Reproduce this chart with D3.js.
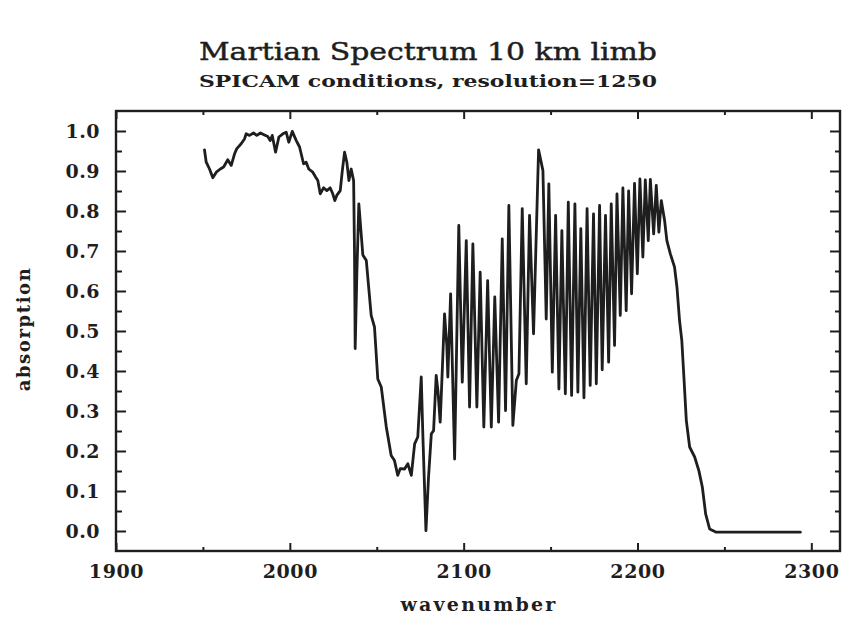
<!DOCTYPE html>
<html>
<head>
<meta charset="utf-8">
<script src="https://cdn.jsdelivr.net/npm/d3@7"></script>
<style>
  html, body { margin: 0; padding: 0; background: #fff; }
  svg { display: block; }
</style>
</head>
<body>
<svg id="chart" width="843" height="618"></svg>
<script>
// ---- Data ----
const titleText = "Martian Spectrum 10 km limb";
const subtitleText = "SPICAM conditions, resolution=1250";
const xLabel = "wavenumber";
const yLabel = "absorption";

const wavenumber = [
  1950.9, 1951.9, 1953.8, 1955.7, 1957.7, 1960.0, 1961.9, 1964.3, 1966.3, 1968.2,
  1969.5, 1972.0, 1973.9, 1974.9, 1976.8, 1979.1, 1981.0, 1983.1, 1985.4, 1987.3,
  1988.7, 1989.9, 1991.8, 1993.7, 1996.0, 1997.9, 1999.4, 2001.4, 2003.7, 2005.6,
  2007.9, 2009.4, 2010.9, 2013.2, 2014.8, 2016.1, 2017.5, 2019.4, 2021.3, 2023.2,
  2024.7, 2025.9, 2027.0, 2029.0, 2030.2, 2031.5, 2032.8, 2034.0, 2035.3, 2036.7,
  2037.2, 2037.6, 2038.6, 2039.7, 2042.0, 2044.0, 2046.8, 2048.7, 2050.6, 2052.6,
  2055.5, 2058.3, 2060.2, 2062.1, 2063.5, 2066.0, 2067.9, 2069.9, 2071.8, 2073.6,
  2075.6, 2076.5, 2078.3, 2079.8, 2081.4, 2082.7, 2084.2, 2085.2, 2086.5, 2089.0,
  2090.3, 2090.9, 2092.5, 2094.8, 2097.2, 2099.2, 2101.5, 2103.4, 2105.3, 2107.6,
  2109.5, 2111.6, 2113.8, 2115.9, 2117.9, 2120.1, 2122.2, 2124.1, 2126.0, 2128.3,
  2130.3, 2131.8, 2133.7, 2136.0, 2137.9, 2140.2, 2143.1, 2145.6, 2147.5, 2149.0,
  2151.0, 2152.9, 2154.8, 2156.5, 2158.5, 2160.2, 2162.1, 2164.0, 2165.7, 2167.4,
  2169.2, 2171.0, 2172.8, 2174.7, 2176.3, 2178.2, 2179.7, 2181.6, 2183.4, 2184.9,
  2186.8, 2188.2, 2190.1, 2191.6, 2193.5, 2194.9, 2196.6, 2198.3, 2199.9, 2201.4,
  2203.1, 2204.5, 2206.2, 2207.4, 2209.3, 2210.8, 2212.3, 2213.7, 2215.6, 2216.9,
  2218.9, 2221.3, 2222.7, 2224.2, 2225.5, 2226.7, 2228.1, 2230.0, 2232.9, 2235.3,
  2237.3, 2239.2, 2241.5, 2245.3, 2293.7
];
const absorption = [
  0.953, 0.922, 0.905, 0.883, 0.897, 0.905, 0.910, 0.928, 0.914, 0.943,
  0.956, 0.968, 0.980, 0.993, 0.989, 0.995, 0.989, 0.995, 0.990, 0.986,
  0.976, 0.989, 0.947, 0.985, 0.993, 0.997, 0.972, 0.999, 0.976, 0.960,
  0.918, 0.922, 0.905, 0.897, 0.885, 0.876, 0.843, 0.858, 0.851, 0.858,
  0.843, 0.826, 0.839, 0.851, 0.901, 0.947, 0.922, 0.876, 0.905, 0.876,
  0.700, 0.456, 0.650, 0.818, 0.690, 0.676, 0.539, 0.510, 0.380, 0.360,
  0.260, 0.189, 0.176, 0.139, 0.156, 0.155, 0.168, 0.139, 0.218, 0.235,
  0.385, 0.243, 0.001, 0.135, 0.243, 0.251, 0.389, 0.351, 0.272, 0.543,
  0.464, 0.385, 0.593, 0.180, 0.764, 0.372, 0.726, 0.310, 0.718, 0.310,
  0.647, 0.260, 0.626, 0.260, 0.585, 0.272, 0.730, 0.301, 0.814, 0.264,
  0.376, 0.393, 0.806, 0.368, 0.789, 0.493, 0.953, 0.901, 0.530, 0.868,
  0.397, 0.789, 0.355, 0.751, 0.343, 0.822, 0.339, 0.818, 0.347, 0.756,
  0.333, 0.806, 0.364, 0.793, 0.368, 0.814, 0.403, 0.789, 0.422, 0.818,
  0.464, 0.843, 0.539, 0.858, 0.551, 0.850, 0.593, 0.869, 0.643, 0.880,
  0.685, 0.878, 0.726, 0.879, 0.743, 0.864, 0.747, 0.826, 0.776, 0.726,
  0.693, 0.660, 0.610, 0.526, 0.476, 0.385, 0.276, 0.210, 0.185, 0.151,
  0.110, 0.043, 0.005, -0.003, -0.003
];
const xMajorTicks = [1900, 2000, 2100, 2200, 2300];
const xMinorTicks = [1950, 2050, 2150, 2250];
const yMajorTicks = [0.0, 0.1, 0.2, 0.3, 0.4, 0.5, 0.6, 0.7, 0.8, 0.9, 1.0];
const yMinorTicks = [0.05, 0.15, 0.25, 0.35, 0.45, 0.55, 0.65, 0.75, 0.85, 0.95];

// ---- Layout ----
const W = 843, H = 618;
const plot = { left: 116, right: 840, top: 111, bottom: 551 };
const ink = "#1e1e1e";

const x = d3.scaleLinear().domain([1900, 2316.5]).range([plot.left, plot.right]);
const y = d3.scaleLinear().domain([-0.05, 1.05]).range([plot.bottom, plot.top]);

const svg = d3.select("#chart");
svg.append("rect").attr("width", W).attr("height", H).attr("fill", "#fff");

const labelFont = "'DejaVu Serif', 'Liberation Serif', serif";

// Title
svg.append("text")
  .attr("x", 428).attr("y", 60)
  .attr("text-anchor", "middle")
  .attr("font-family", labelFont)
  .attr("font-size", 24)
  .attr("fill", ink)
  .attr("stroke", ink).attr("stroke-width", 0.45)
  .attr("textLength", 458).attr("lengthAdjust", "spacingAndGlyphs")
  .text(titleText);
svg.append("text")
  .attr("x", 428).attr("y", 87)
  .attr("text-anchor", "middle")
  .attr("font-family", labelFont)
  .attr("font-weight", "bold")
  .attr("font-size", 17)
  .attr("fill", ink)
  .attr("textLength", 458).attr("lengthAdjust", "spacingAndGlyphs")
  .text(subtitleText);

// Axes (ticks pointing inward)
function styleAxis(g, fs) {
  g.selectAll("path.domain").remove();
  g.selectAll("line").attr("stroke", ink).attr("stroke-width", 2);
  g.selectAll("text")
    .attr("font-family", labelFont)
    .attr("font-weight", "bold")
    .attr("font-size", fs || 18)
    .attr("fill", ink);
}

const gx = svg.append("g").attr("transform", `translate(0,${plot.bottom})`)
  .call(d3.axisBottom(x).tickValues(xMajorTicks).tickFormat(d3.format("d"))
    .tickSize(-8).tickPadding(14));
styleAxis(gx, 19);
gx.selectAll("text").attr("letter-spacing", 0.6);
const gxm = svg.append("g").attr("transform", `translate(0,${plot.bottom})`)
  .call(d3.axisBottom(x).tickValues(xMinorTicks).tickFormat("").tickSize(-4));
styleAxis(gxm);
const gxt = svg.append("g").attr("transform", `translate(0,${plot.top})`)
  .call(d3.axisTop(x).tickValues(xMajorTicks).tickFormat("").tickSize(-8));
styleAxis(gxt);
const gxtm = svg.append("g").attr("transform", `translate(0,${plot.top})`)
  .call(d3.axisTop(x).tickValues(xMinorTicks).tickFormat("").tickSize(-4));
styleAxis(gxtm);

const gy = svg.append("g").attr("transform", `translate(${plot.left},0)`)
  .call(d3.axisLeft(y).tickValues(yMajorTicks).tickFormat(d3.format(".1f"))
    .tickSize(-10).tickPadding(16));
styleAxis(gy, 19);
gy.selectAll("text").attr("letter-spacing", 0.5);
const gym = svg.append("g").attr("transform", `translate(${plot.left},0)`)
  .call(d3.axisLeft(y).tickValues(yMinorTicks).tickFormat("").tickSize(-6));
styleAxis(gym);
const gyr = svg.append("g").attr("transform", `translate(${plot.right},0)`)
  .call(d3.axisRight(y).tickValues(yMajorTicks).tickFormat("").tickSize(-10));
styleAxis(gyr);
const gyrm = svg.append("g").attr("transform", `translate(${plot.right},0)`)
  .call(d3.axisRight(y).tickValues(yMinorTicks).tickFormat("").tickSize(-5));
styleAxis(gyrm);

// Frame
svg.append("rect")
  .attr("x", plot.left).attr("y", plot.top)
  .attr("width", plot.right - plot.left).attr("height", plot.bottom - plot.top)
  .attr("fill", "none").attr("stroke", ink).attr("stroke-width", 2.4);

// Spectrum line
const pts = wavenumber.map((w, i) => [w, absorption[i]]);
svg.append("path")
  .datum(pts)
  .attr("fill", "none")
  .attr("stroke", ink)
  .attr("stroke-width", 2.8)
  .attr("stroke-linejoin", "round")
  .attr("stroke-linecap", "round")
  .attr("d", d3.line().x(d => x(d[0])).y(d => y(d[1])));

// Axis titles
svg.append("text")
  .attr("x", 479).attr("y", 611)
  .attr("text-anchor", "middle")
  .attr("font-family", labelFont).attr("font-weight", "bold")
  .attr("font-size", 19).attr("letter-spacing", 2.2)
  .attr("fill", ink)
  .text(xLabel);
svg.append("text")
  .attr("transform", "translate(30,329) rotate(-90)")
  .attr("text-anchor", "middle")
  .attr("font-family", labelFont).attr("font-weight", "bold")
  .attr("font-size", 18).attr("letter-spacing", 1.6)
  .attr("fill", ink)
  .text(yLabel);
</script>
</body>
</html>
